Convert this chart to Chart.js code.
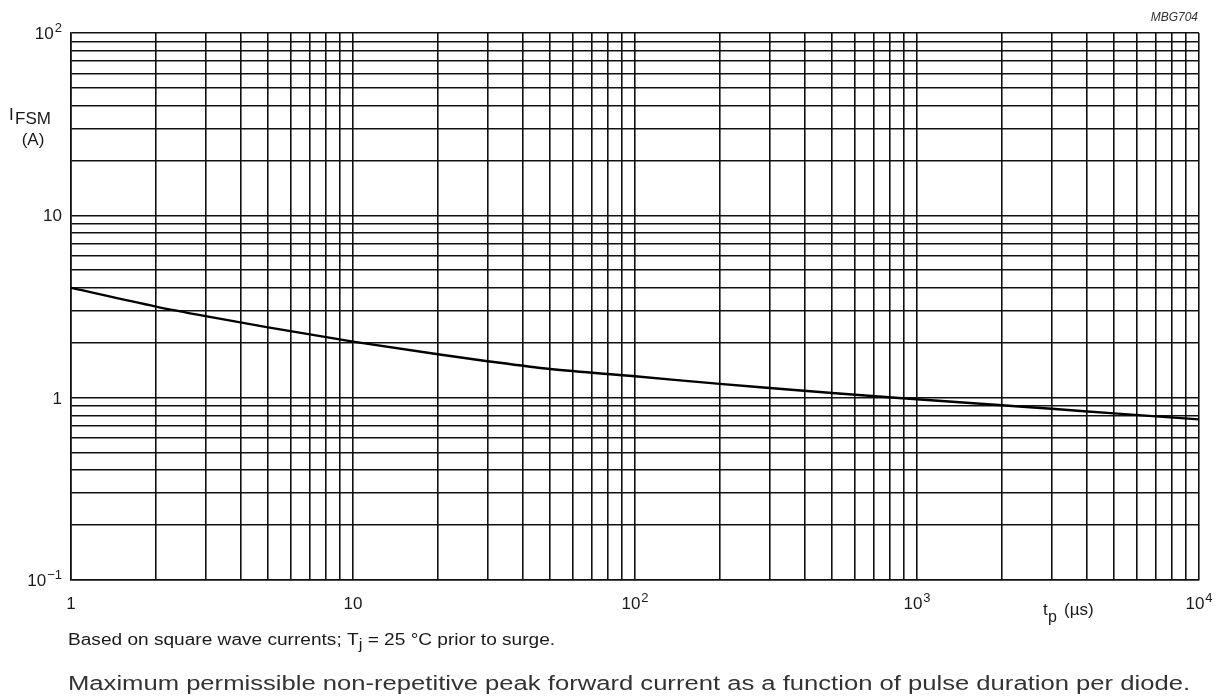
<!DOCTYPE html>
<html>
<head>
<meta charset="utf-8">
<script src="https://cdn.jsdelivr.net/npm/chart.js@4.4.0/dist/chart.umd.min.js"></script>
<style>
  html, body { margin: 0; padding: 0; background: #fff; }
  #wrap { width: 1222px; height: 697px; }
</style>
</head>
<body>
<div id="wrap"><canvas id="GrafIfsm" width="1222" height="697"></canvas></div>
<script>
// pulse duration tp (us) and surge current IFSM (A)
var tpValues = [1, 2, 3, 5, 10, 20, 30, 50, 100, 200, 300, 500, 1000, 2000, 3000, 5000, 10000];
var ifsmValues = [4.0, 3.16, 2.80, 2.43, 2.03, 1.73, 1.585, 1.435, 1.31, 1.19, 1.13, 1.06, 0.98, 0.908, 0.869, 0.82, 0.76];

// decade labels: base + exponent
var xDecades = [1, 10, 100, 1000, 10000];
var xTickLabels = [['1', ''], ['10', ''], ['10', '2'], ['10', '3'], ['10', '4']];
var yDecades = [0.1, 1, 10, 100];
var yTickLabels = [['10', '\u22121'], ['1', ''], ['10', ''], ['10', '2']];

// grid lines at 1..9 of each decade
function decadeTicks(min, max) {
    var out = [];
    for (var d = min; d < max * 1.0001; d *= 10) {
        for (var m = 1; m <= 9; m++) {
            var v = +(d * m).toPrecision(6);
            if (v <= max * 1.0001) out.push({ value: v });
        }
    }
    return out;
}

var fontFam = '"Liberation Sans", Arial, sans-serif';

function powLabel(c, base, exp, x, y, align) {
    c.font = '17px ' + fontFam;
    var wb = c.measureText(base).width;
    c.font = '13px ' + fontFam;
    var we = exp ? c.measureText(exp).width + 1 : 0;
    var left = align === 'right' ? x - wb - we : x - (wb + we) / 2;
    c.textAlign = 'left';
    c.font = '17px ' + fontFam;
    c.fillText(base, left, y);
    if (exp) {
        c.font = '13px ' + fontFam;
        c.fillText(exp, left + wb + 1, y - 7);
    }
}

// tick labels with superscripts, axis titles, footnote, caption
var textPlugin = {
    id: 'texts',
    afterDraw: function (chart) {
        var c = chart.ctx;
        var xs = chart.scales.x, ys = chart.scales.y;
        c.save();
        c.fillStyle = '#1a1a1a';
        c.textBaseline = 'alphabetic';

        xDecades.forEach(function (v, i) {
            powLabel(c, xTickLabels[i][0], xTickLabels[i][1], xs.getPixelForValue(v), 609, 'center');
        });
        yDecades.forEach(function (v, i) {
            powLabel(c, yTickLabels[i][0], yTickLabels[i][1], 62, ys.getPixelForValue(v) + 6, 'right');
        });

        // y title I FSM (A)
        c.textAlign = 'left';
        c.font = '17px ' + fontFam;
        c.fillText('I', 9, 120);
        c.fillText('FSM', 15, 124);
        c.textAlign = 'center';
        c.fillText('(A)', 33, 145);

        // x title tp (us)
        c.textAlign = 'left';
        c.font = '17px ' + fontFam;
        c.fillText('t', 1043, 615);
        c.font = '16px ' + fontFam;
        c.fillText('p', 1048, 622);
        c.font = '17px ' + fontFam;
        c.fillText('(µs)', 1064, 615);

        // drawing code
        c.font = 'italic 12px ' + fontFam;
        c.fillStyle = '#333';
        c.textAlign = 'right';
        c.fillText('MBG704', 1198, 21);

        // footnote
        c.textAlign = 'left';
        c.fillStyle = '#1a1a1a';
        var p1 = 'Based on square wave currents; T';
        var p2 = 'j';
        var p3 = ' = 25 °C prior to surge.';
        c.font = '16px ' + fontFam;
        var w = c.measureText(p1).width + c.measureText(p2).width * 0.85 + c.measureText(p3).width;
        c.save();
        c.translate(68, 645);
        c.scale(487 / w, 1);
        var x = 0;
        c.fillText(p1, x, 0); x += c.measureText(p1).width;
        c.font = '14px ' + fontFam;
        c.fillText(p2, x, 4); x += c.measureText(p2).width;
        c.font = '16px ' + fontFam;
        c.fillText(p3, x, 0);
        c.restore();

        // caption
        var cap = 'Maximum permissible non-repetitive peak forward current as a function of pulse duration per diode.';
        c.font = '20px ' + fontFam;
        c.fillStyle = '#333';
        var cw = c.measureText(cap).width;
        c.save();
        c.translate(68, 690);
        c.scale(1122 / cw, 1);
        c.fillText(cap, 0, 0);
        c.restore();

        c.restore();
    }
};

var ctxI = document.getElementById('GrafIfsm').getContext('2d');
var chart = new Chart(ctxI, {
    type: 'line',
    data: {
        datasets: [{
            label: 'IFSM',
            data: tpValues.map(function (t, i) { return { x: t, y: ifsmValues[i] }; }),
            borderColor: '#000',
            borderWidth: 2.4,
            pointRadius: 0,
            fill: false,
            cubicInterpolationMode: 'monotone'
        }]
    },
    options: {
        responsive: false,
        animation: false,
        layout: { padding: { top: 33, right: 23, left: 0, bottom: 0 } },
        plugins: { legend: { display: false }, tooltip: { enabled: false } },
        scales: {
            x: {
                type: 'logarithmic',
                min: 1,
                max: 10000,
                afterBuildTicks: function (s) { s.ticks = decadeTicks(1, 10000); },
                afterFit: function (s) { s.height = 117; },
                grid: { color: '#111', lineWidth: 1.6, drawTicks: false },
                border: { color: '#111', width: 1.6 },
                ticks: { display: false }
            },
            y: {
                type: 'logarithmic',
                min: 0.1,
                max: 100,
                afterBuildTicks: function (s) { s.ticks = decadeTicks(0.1, 100); },
                afterFit: function (s) { s.width = 71; },
                grid: { color: '#111', lineWidth: 1.6, drawTicks: false },
                border: { color: '#111', width: 1.6 },
                ticks: { display: false }
            }
        }
    },
    plugins: [textPlugin]
});
</script>
</body>
</html>
